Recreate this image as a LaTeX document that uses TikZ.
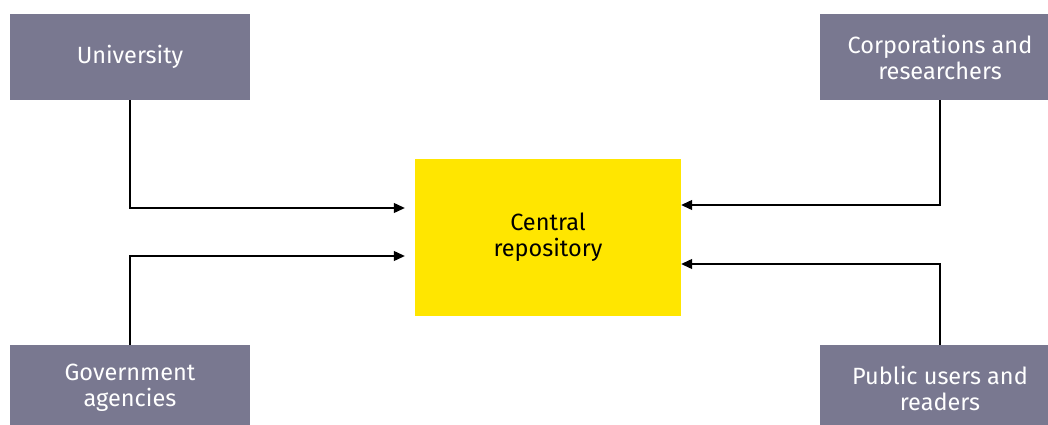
\documentclass[tikz,border=0pt]{standalone}
\usepackage{fontspec}
\setmainfont{Fira Sans}
\usetikzlibrary{positioning,arrows.meta}

\definecolor{partygray}{HTML}{797890}
\definecolor{repoyellow}{HTML}{FFE600}

\begin{document}
\begin{tikzpicture}[x=1pt,y=-1pt,
    party/.style={fill=partygray, text=white, minimum width=240pt, minimum height=86pt,
      inner sep=0pt, align=center, font=\fontsize{23.5}{26}\selectfont},
    repo/.style={fill=repoyellow, text=black, minimum width=266pt, minimum height=157pt,
      inner sep=0pt, align=center, font=\fontsize{23.5}{26}\selectfont},
    feed/.style={draw=black, line width=1.2pt, -{Triangle[length=11pt,width=10pt]}}]
  \useasboundingbox (0,0) rectangle (1048,425);

  % the central store and the four parties around it
  \node[repo] (central) at (548,237.5) {Central\\repository};
  \node[party] (uni) at (130,57) {University};
  \node[party] (corp) at (940,57) {Corporations and\\researchers};
  \node[party] (gov) at (130,388) {Government\\agencies};
  \node[party] (public) at (940,388) {Public users and\\readers};

  % feeds into the repository (left ones stop short of the box)
  \draw[feed] (uni.south) |- ([xshift=-10pt,yshift=29.5pt]central.west);
  \draw[feed] (gov.north) |- ([xshift=-10pt,yshift=-18.5pt]central.west);
  \draw[feed] (corp.south) |- ([yshift=32.5pt]central.east);
  \draw[feed] (public.north) |- ([yshift=-26.5pt]central.east);
\end{tikzpicture}
\end{document}
